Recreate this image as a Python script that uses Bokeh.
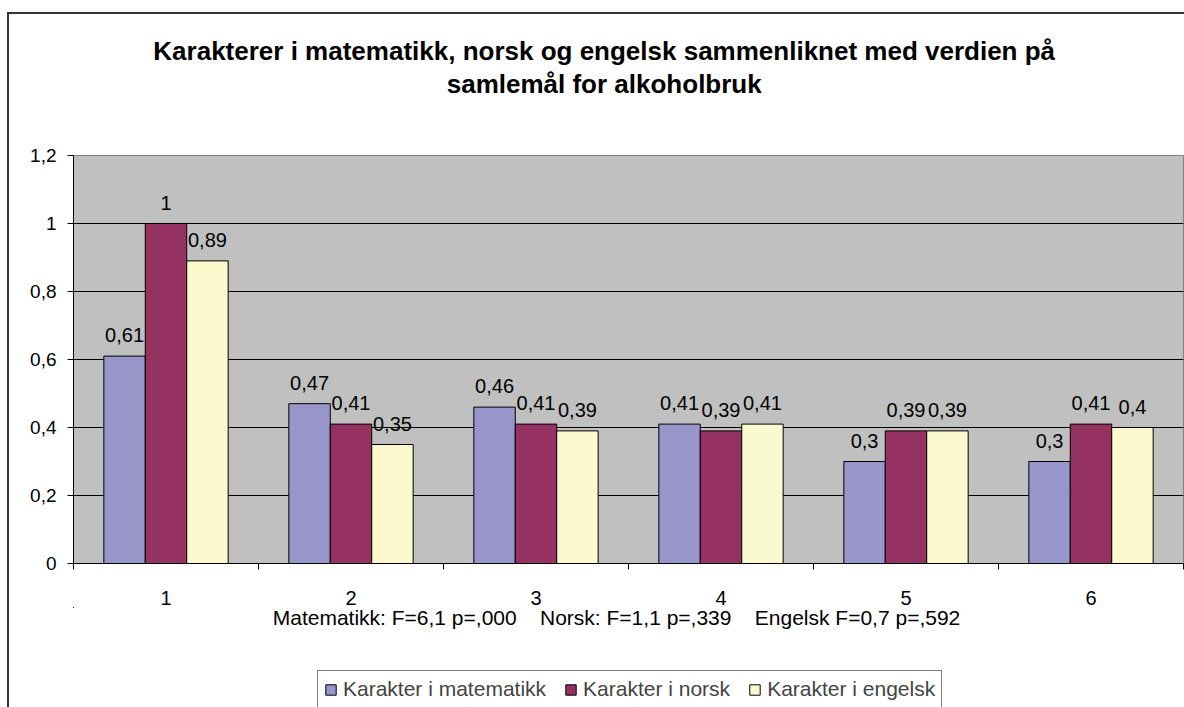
from bokeh.plotting import figure
from bokeh.layouts import column
from bokeh.models import (ColumnDataSource, Range1d, FixedTicker, LabelSet, Label,
                          Legend, LegendItem)
from bokeh.core.properties import value
from bokeh.transform import dodge
from bokeh.embed import file_html
from bokeh.resources import INLINE

# ---------------- data ----------------
categories = [1, 2, 3, 4, 5, 6]
matematikk = [0.61, 0.47, 0.46, 0.41, 0.30, 0.30]
norsk = [1.00, 0.41, 0.41, 0.39, 0.39, 0.41]
engelsk = [0.89, 0.35, 0.39, 0.41, 0.39, 0.40]
series_names = ["Karakter i matematikk", "Karakter i norsk", "Karakter i engelsk"]
y_ticks = [0, 0.2, 0.4, 0.6, 0.8, 1.0, 1.2]
y_tick_labels = ["0", "0,2", "0,4", "0,6", "0,8", "1", "1,2"]
title_lines = ["Karakterer i matematikk, norsk og engelsk sammenliknet med verdien på",
               "samlemål for alkoholbruk"]
GAP = "\u00a0" * 4
stats_text = "Matematikk: F=6,1 p=,000" + GAP + "Norsk: F=1,1 p=,339" + GAP + "Engelsk F=0,7 p=,592"

colors = ["#9795C9", "#953262", "#FBF9CE"]
FONT = "Liberation Sans"
W = 1184
PLOT_L, PLOT_R = 73, 1
TOP_H, MAIN_H, BOT_H = 140, 467, 100

LEFT_LINE = "linear-gradient(#333,#333) 7px 0 / 2px 100% no-repeat, #ffffff"
TOP_LINES = ("linear-gradient(#333,#333) 7px 12px / 2px calc(100% - 12px) no-repeat, "
             "linear-gradient(#333,#333) 7px 12px / calc(100% - 7px) 2px no-repeat, #ffffff")


def fmt(v):
    return f"{v:g}".replace(".", ",")


src = ColumnDataSource(dict(
    x=categories,
    mat=matematikk, nor=norsk, eng=engelsk,
    mat_l=[fmt(v) for v in matematikk],
    nor_l=[fmt(v) for v in norsk],
    eng_l=[fmt(v) for v in engelsk],
))


def bare(h, y0, y1, bg):
    # strip whose frame is aligned with the chart frame; data units = page pixels
    f = figure(width=W, height=h, output_backend="svg", toolbar_location=None,
               x_range=Range1d(PLOT_L, W - PLOT_R), y_range=Range1d(y1, y0),
               x_axis_type=None, y_axis_type=None, min_border=0)
    f.outline_line_color = None
    f.background_fill_alpha = 0
    f.border_fill_alpha = 0
    f.styles = {"background": bg}
    return f


# ---------------- title strip ----------------
tfig = bare(TOP_H, 0, TOP_H, TOP_LINES)
for txt, ym in zip(title_lines, [50.5, 83.5]):
    tfig.add_layout(Label(x=603.7, y=ym, text=txt, text_align="center",
                          text_baseline="middle", text_font=FONT,
                          text_font_style="bold", text_font_size="26px",
                          text_color="black"))

# ---------------- main chart ----------------
p = figure(width=W, height=MAIN_H, output_backend="svg", toolbar_location=None,
           x_range=Range1d(0.5, 6.5), y_range=Range1d(0, 1.2),
           min_border_left=PLOT_L, min_border_right=PLOT_R, min_border_top=15,
           min_border_bottom=44)
p.background_fill_color = "#C0C0C0"
p.border_fill_alpha = 0
p.styles = {"background": LEFT_LINE}
p.outline_line_color = "#808080"
p.outline_line_width = 1

bw = 0.224
offsets = [-bw, 0.0, bw]
cols = ["mat", "nor", "eng"]
for off, col, c in zip(offsets, cols, colors):
    p.vbar(x=dodge("x", off, range=p.x_range), top=col, width=bw, source=src,
           fill_color=c, line_color="black", line_width=1)
    p.add_layout(LabelSet(x=dodge("x", off, range=p.x_range), y=col, text=col + "_l",
                          source=src, text_align="center", text_baseline="alphabetic",
                          y_offset=14, text_font=value(FONT), text_font_size=value("20px"),
                          text_color="black"))

p.xaxis.ticker = FixedTicker(ticks=categories,
                             minor_ticks=[c - 0.5 for c in categories] + [categories[-1] + 0.5])
p.xaxis.major_tick_line_color = None
p.xaxis.major_tick_out = 0
p.xaxis.major_tick_in = 0
p.xaxis.minor_tick_out = 6
p.xaxis.minor_tick_in = 0
p.xaxis.minor_tick_line_color = "black"
p.xaxis.axis_line_color = "black"
p.xaxis.major_label_standoff = 21
p.xaxis.major_label_text_font = FONT
p.xaxis.major_label_text_font_size = "20px"
p.xaxis.major_label_text_color = "black"

p.yaxis.ticker = FixedTicker(ticks=y_ticks, minor_ticks=[])
p.yaxis.major_label_overrides = {t: s for t, s in zip(y_ticks, y_tick_labels)}
p.yaxis.major_tick_out = 6
p.yaxis.major_tick_in = 0
p.yaxis.major_tick_line_color = "black"
p.yaxis.axis_line_color = "black"
p.yaxis.major_label_standoff = 11
p.yaxis.major_label_text_font = FONT
p.yaxis.major_label_text_font_size = "19px"
p.yaxis.major_label_text_color = "black"

p.xgrid.grid_line_color = None
p.ygrid.grid_line_color = "black"
p.ygrid.grid_line_width = 1

# ---------------- bottom strip: statistics + legend ----------------
y_start = TOP_H + MAIN_H
bfig = bare(BOT_H, y_start, y_start + BOT_H, LEFT_LINE)
bfig.add_layout(Label(x=616, y=616.5, text=stats_text, text_align="center",
                      text_baseline="middle", text_font=FONT, text_font_size="21px",
                      text_color="black"))
# legend swatches: the same series, which fall outside this strip's visible ranges
leg_r = []
for col, c in zip(cols, colors):
    leg_r.append(bfig.vbar(x="x", top=col, width=bw, source=src,
                           fill_color=c, line_color="black", line_width=1))
legend = Legend(items=[LegendItem(label=n, renderers=[r]) for n, r in zip(series_names, leg_r)],
                orientation="horizontal", location=(317 - PLOT_L, -1),
                glyph_width=13, glyph_height=13, label_standoff=6, spacing=18,
                padding=6, margin=0, border_line_color="black", border_line_width=1,
                label_text_font=FONT, label_text_font_size="21px",
                background_fill_color="white", background_fill_alpha=1)
bfig.add_layout(legend, "center")

layout = column(tfig, p, bfig, spacing=0)
open("out.html", "w").write(file_html(layout, INLINE))
